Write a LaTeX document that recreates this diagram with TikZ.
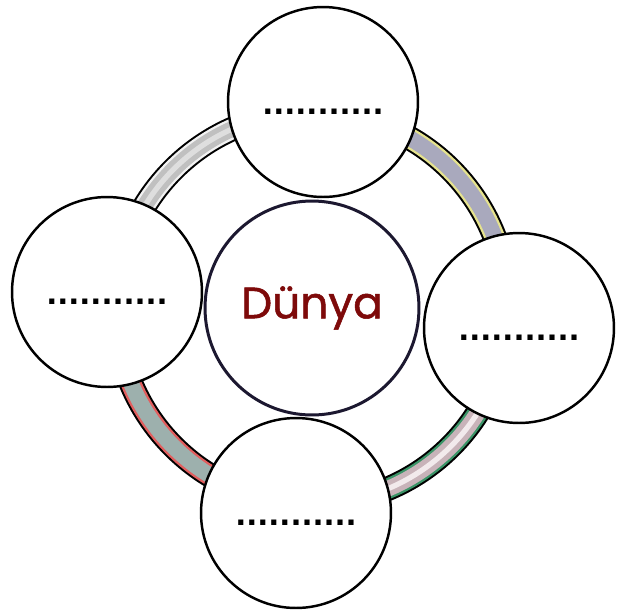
\documentclass[tikz,border=0pt]{standalone}
\usepackage{fontspec}
\newfontfamily\dotfont{DejaVu Sans}
\newfontfamily\titlefont[FakeBold=1.2]{Poppins}
\definecolor{tlEdge}{HTML}{F2F2F2}
\definecolor{tlFill}{HTML}{C0C0C0}
\definecolor{tlShine}{HTML}{DEDEDE}
\definecolor{trEdge}{HTML}{E6E38E}
\definecolor{trFill}{HTML}{A9A9BD}
\definecolor{brEdge}{HTML}{3A9467}
\definecolor{brFill}{HTML}{C8B3B9}
\definecolor{brShine}{HTML}{F2EAEC}
\definecolor{blEdge}{HTML}{E25E5E}
\definecolor{blFill}{HTML}{9DB0AD}
\definecolor{dnyLine}{HTML}{1C1830}
\definecolor{dnyText}{HTML}{7E0A0A}

\begin{document}
\begin{tikzpicture}[x=0.02cm, y=0.02cm,
    ringseg/.style n args={3}{line width=13.9pt, draw=black,
        postaction={draw=#1, line width=11.6pt},
        postaction={draw=#2, line width=9pt},
        postaction={draw=#3, line width=3pt}},
    bubble/.style={draw, circle, line width=1.4pt, fill=white, inner sep=0pt,
        minimum size=3.8cm, font=\dotfont\bfseries\fontsize{16.5}{18}\selectfont,
        text height=14.4pt, text depth=0pt}]
    \useasboundingbox (-312,308) rectangle (317,-302);
    % halka
    \draw[ringseg={tlEdge}{tlFill}{tlShine}] (86.9:196) arc[start angle=86.9, end angle=175.5, radius=196];
    \draw[ringseg={trEdge}{trFill}{trFill}] (-5.5:196) arc[start angle=-5.5, end angle=86.9, radius=196];
    \draw[ringseg={brEdge}{brFill}{brShine}] (-94.5:196) arc[start angle=-94.5, end angle=-5.5, radius=196];
    \draw[ringseg={blEdge}{blFill}{blFill}] (175.5:196) arc[start angle=175.5, end angle=265.5, radius=196];
    % orta
    \node[draw=dnyLine, circle, line width=1.7pt, fill=white, minimum size=4.28cm,
        font=\titlefont\fontsize{25}{28}\selectfont, text=dnyText] (dunya) at (0,0) {Dünya};
    % boşluklar
    \node[bubble] (ust) at (11,206) {...........};
    \node[bubble] (sol) at (-205,16) {...........};
    \node[bubble] (sag) at (207,-20) {...........};
    \node[bubble] (alt) at (-16,-205) {...........};
\end{tikzpicture}
\end{document}
